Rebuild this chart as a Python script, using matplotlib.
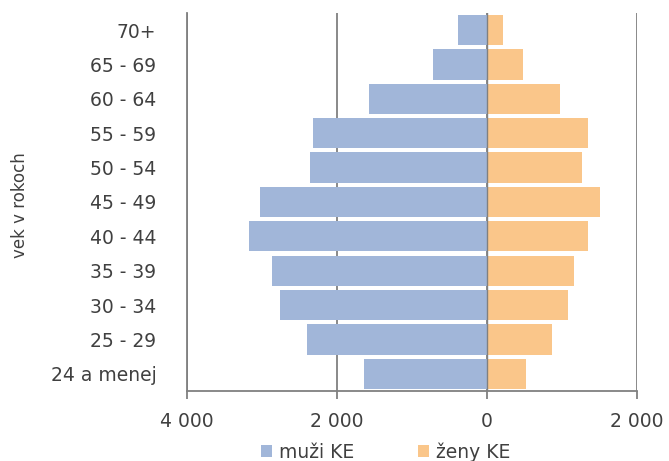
import matplotlib
matplotlib.use("Agg")
import matplotlib.pyplot as plt
from matplotlib.ticker import FixedLocator, FuncFormatter

categories = ["24 a menej", "25 - 29", "30 - 34", "35 - 39", "40 - 44", "45 - 49",
              "50 - 54", "55 - 59", "60 - 64", "65 - 69", "70+"]
muzi = [1640, 2406, 2766, 2863, 3177, 3023, 2354, 2326, 1571, 720, 383]
zeny = [514, 869, 1086, 1160, 1343, 1503, 1269, 1343, 971, 474, 211]
xticks = [-4000, -2000, 0, 2000]

blue = "#A1B6D9"
orange = "#FAC68A"
txt = "#404040"
grid = "#808080"

plt.rcParams['font.family'] = ['DejaVu Sans']

fig = plt.figure(figsize=(6.69, 4.61), dpi=100)
ax = fig.add_axes([0.2795, 0.152, 0.6726, 0.82])

y = list(range(len(categories)))
ax.barh(y, [-v for v in muzi], height=0.88, color=blue, label="muži KE", zorder=2)
ax.barh(y, zeny, height=0.88, color=orange, label="ženy KE", zorder=2)

ax.set_xlim(-4000, 2000)
ax.set_ylim(-0.5, len(categories) - 0.5)
ax.xaxis.set_major_locator(FixedLocator(xticks))
ax.xaxis.set_major_formatter(FuncFormatter(lambda v, p: f"{abs(int(v)):,}".replace(",", " ")))
ax.grid(axis="x", color=grid, linewidth=1.3, zorder=1)
ax.set_axisbelow(True)
ax.axvline(0, color=grid, linewidth=1.0, zorder=3)

ax.set_yticks(y)
ax.set_yticklabels(categories)
ax.tick_params(axis="y", length=0, pad=22, labelsize=13.5, labelcolor=txt)
ax.tick_params(axis="x", length=6, width=1.3, color=grid, pad=9, labelsize=13.5, labelcolor=txt)

for s in ["top", "right"]:
    ax.spines[s].set_visible(False)
for s in ["left", "bottom"]:
    ax.spines[s].set_color(grid)
    ax.spines[s].set_linewidth(1.3)

fig.text(0.03, 0.555, "vek v rokoch", rotation=90, ha="center", va="center",
         fontsize=12, color=txt)

leg = fig.legend(loc="center left", bbox_to_anchor=(0.39, 0.02), ncol=2, frameon=False,
                 fontsize=13.5, handlelength=0.6, handleheight=0.6, columnspacing=3.4,
                 handletextpad=0.35, borderpad=0, borderaxespad=0)
for t in leg.get_texts():
    t.set_color(txt)

fig.savefig("out.png", dpi=100)
